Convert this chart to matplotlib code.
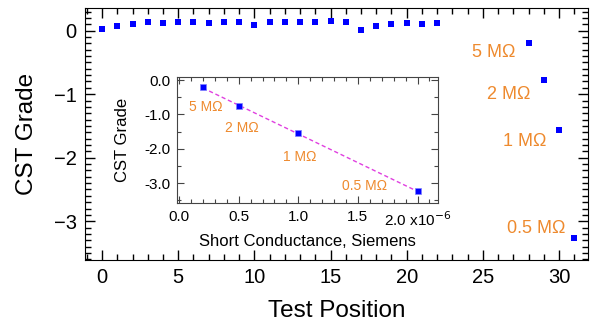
import numpy as np
import matplotlib
matplotlib.use("Agg")
import matplotlib.pyplot as plt
from matplotlib.ticker import MultipleLocator, FixedLocator

plt.rcParams['font.family'] = ['Liberation Sans', 'DejaVu Sans']

# dados do grafico principal
posicao = [0, 1, 2, 3, 4, 5, 6, 7, 8, 9, 10, 11, 12, 13, 14, 15, 16, 17, 18, 19, 20, 21, 22,
           28, 29, 30, 31]
nota_cst = [0.03, 0.08, 0.10, 0.13, 0.12, 0.13, 0.14, 0.12, 0.13, 0.13, 0.085, 0.14, 0.13,
            0.13, 0.14, 0.145, 0.13, 0.01, 0.08, 0.105, 0.12, 0.10, 0.115,
            -0.19, -0.78, -1.56, -3.27]

# dados do grafico interno
resistencias = ["5 M\u03a9", "2 M\u03a9", "1 M\u03a9", "0.5 M\u03a9"]
condutancia = [0.2e-6, 0.5e-6, 1.0e-6, 2.0e-6]
nota_curto = [-0.21, -0.77, -1.55, -3.24]

azul = '#0000FF'
laranja = '#EE8A2E'

fig = plt.figure(figsize=(5.94, 3.26), dpi=100)
ax = fig.add_axes([0.1431, 0.2025, 0.8468, 0.773])
ax.plot(posicao, nota_cst, 's', color=azul, markersize=5, markeredgewidth=0)
ax.set_xlim(-1.12, 31.9)
ax.set_ylim(-3.61, 0.357)
ax.xaxis.set_major_locator(MultipleLocator(5))
ax.xaxis.set_minor_locator(MultipleLocator(1))
ax.yaxis.set_major_locator(MultipleLocator(1))
ax.yaxis.set_minor_locator(MultipleLocator(0.1))
ax.tick_params(which='both', direction='in', top=True, right=True, labelsize=14.5, width=1)
ax.tick_params(which='major', length=7, pad=6)
ax.tick_params(which='minor', length=4)
ax.set_xlabel("Test Position", fontsize=17.5, labelpad=9)
ax.set_ylabel("CST Grade", fontsize=17.5, labelpad=11)

# rotulos das resistencias no grafico principal
pos_rotulos = [(27.1, -0.35), (28.1, -1.0), (29.2, -1.75), (30.4, -3.12)]
for texto, (xr, yr) in zip(resistencias, pos_rotulos):
    ax.text(xr, yr, texto, color=laranja, fontsize=13, ha='right', va='center')

# grafico interno
ins = fig.add_axes([0.298, 0.377, 0.439, 0.387])
coef = np.polyfit(condutancia, nota_curto, 1)
xs = np.array([condutancia[0], condutancia[-1]])
ins.plot(xs, np.polyval(coef, xs), '--', color='#E040E0', linewidth=1, dashes=(3, 2))
ins.plot(condutancia, nota_curto, 's', color=azul, markersize=4,
         markeredgecolor='#8080FF', markeredgewidth=0.5)
ins.set_xlim(-0.017e-6, 2.17e-6)
ins.set_ylim(-3.58, 0.09)
ins.xaxis.set_major_locator(FixedLocator([0, 0.5e-6, 1.0e-6, 1.5e-6, 2.0e-6]))
ins.set_xticklabels(["0.0", "0.5", "1.0", "1.5", "2.0 x10$^{-6}$"])
ins.xaxis.set_minor_locator(MultipleLocator(0.1e-6))
ins.yaxis.set_major_locator(MultipleLocator(1))
ins.yaxis.set_minor_locator(MultipleLocator(0.5))
ins.yaxis.set_major_formatter(matplotlib.ticker.FormatStrFormatter('%.1f'))
ins.tick_params(which='both', direction='in', top=True, right=True, labelsize=11,
                width=0.8, color='#444444')
ins.tick_params(which='major', length=5, pad=5)
ins.tick_params(which='minor', length=3)
for sp in ins.spines.values():
    sp.set_color('#444444')
ins.set_xlabel("Short Conductance, Siemens", fontsize=12, labelpad=4)
ins.set_ylabel("CST Grade", fontsize=12, labelpad=10)

pos_ins = [(0.225e-6, -0.78), (0.525e-6, -1.39), (1.01e-6, -2.23), (1.56e-6, -3.07)]
for texto, (xr, yr) in zip(resistencias, pos_ins):
    ins.text(xr, yr, texto, color=laranja, fontsize=10, ha='center', va='center')

fig.savefig("out.png", dpi=100)
